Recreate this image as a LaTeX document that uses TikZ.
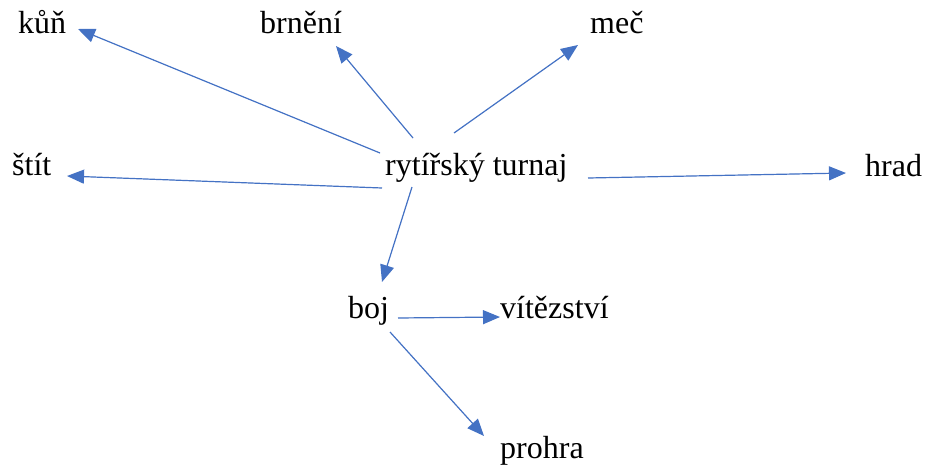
\documentclass[tikz,border=0pt]{standalone}
\usepackage{fontspec}
\setmainfont{Liberation Serif}
\usetikzlibrary{arrows.meta,calc}
\definecolor{linkblue}{HTML}{4472C4}
\begin{document}
\begin{tikzpicture}[x=1pt,y=-1pt,
  word/.style={anchor=base west,inner sep=0pt,font=\fontsize{32}{38}\selectfont},
  link/.style={draw=linkblue,line width=1.2pt,
    -{Triangle[length=17pt,width=14pt]},fill=linkblue}]
\useasboundingbox (0,0) rectangle (929,474);
% words
\node[word] (tt) at (385,175) {rytířský turnaj};
\node[word] (kun) at (18,33) {kůň};
\node[word] (brneni) at (260,33) {brnění};
\node[word] (mec) at (590,33) {meč};
\node[word] (stit) at (12,175) {štít};
\node[word] (hrad) at (865,176) {hrad};
\node[word] (boj) at (348,318) {boj};
\node[word] (vit) at (500,318) {vítězství};
\node[word] (prohra) at (500,458) {prohra};
% links
\draw[link] ($(tt.base west)+(-5,-22)$) -- ($(kun.base west)+(60,-4)$);
\draw[link] ($(tt.base west)+(28,-37)$) -- ($(brneni.base west)+(76,13)$);
\draw[link] ($(tt.base west)+(69,-42)$) -- ($(mec.base west)+(-12,12)$);
\draw[link] ($(tt.base west)+(-3,13)$) -- ($(stit.base west)+(55,1)$);
\draw[link] ($(tt.base west)+(203,3)$) -- ($(hrad.base west)+(-19,-3)$);
\draw[link] ($(tt.base west)+(27,12)$) -- ($(boj.base west)+(34,-36)$);
\draw[link] ($(boj.base west)+(50,0)$) -- ($(vit.base west)+(0,-1)$);
\draw[link] ($(boj.base west)+(42,14)$) -- ($(prohra.base west)+(-16,-22)$);
\end{tikzpicture}
\end{document}
